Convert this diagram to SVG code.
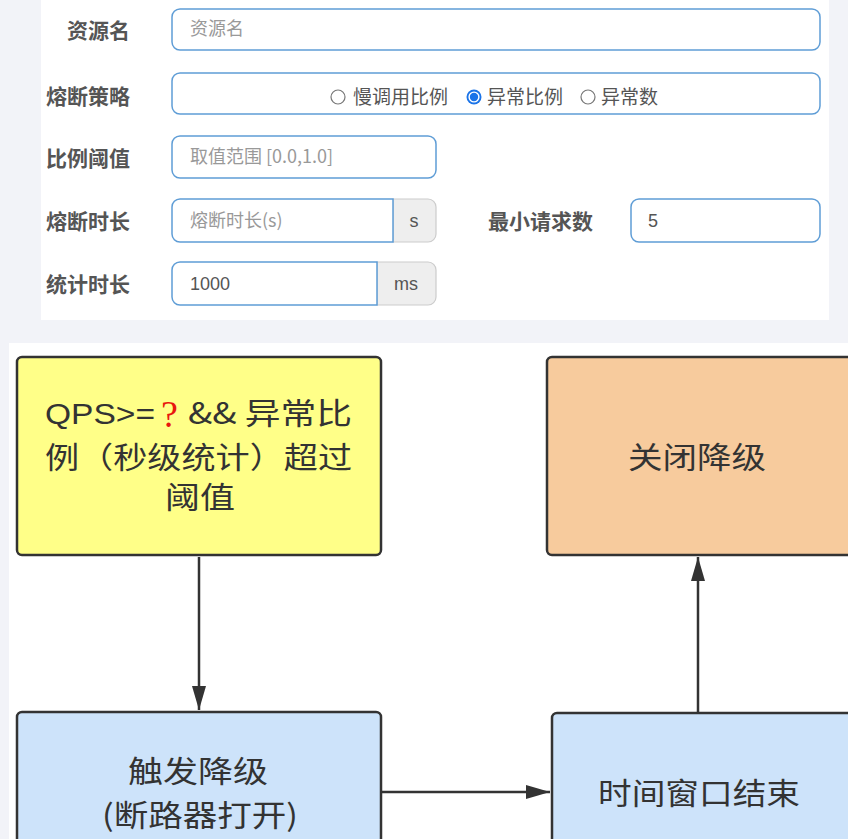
<svg xmlns="http://www.w3.org/2000/svg" width="848" height="839" viewBox="0 0 848 839">
<defs>
<style>
.cjk{font-family:"Noto Sans CJK SC","Liberation Sans",sans-serif;}
.lbl{font-size:21px;font-weight:bold;fill:#555;text-anchor:end;}
.ph{font-size:18px;fill:#999;}
.val{font-size:18px;fill:#555;}
.opt{font-size:19px;fill:#555;}
.inp{fill:#fff;stroke:#5f9dd6;stroke-width:1.5;}
.addon{fill:#eeeeee;stroke:#cccccc;stroke-width:1.2;}
.box{stroke:#333;stroke-width:2.5;}
.big{font-size:30px;fill:#333;}
.conn{stroke:#333;stroke-width:2.5;fill:none;}
</style>
<marker id="arr" viewBox="0 0 24 14" refX="24" refY="7" markerWidth="24" markerHeight="14" markerUnits="userSpaceOnUse" orient="auto">
<path d="M0,0 L24,7 L0,14 z" fill="#333"/>
</marker>
</defs>
<rect x="0" y="0" width="848" height="839" fill="#f2f3f8"/>
<rect x="41" y="0" width="788" height="320" fill="#fff"/>
<rect x="9" y="343" width="839" height="496" fill="#fff"/>

<g id="form" class="cjk">
<g id="f-name">
<text class="lbl" x="130" y="38">资源名</text>
<rect class="inp" x="172" y="9" width="648" height="41" rx="8"/>
<text class="ph" x="190" y="35">资源名</text>
</g>
<g id="f-strategy">
<text class="lbl" x="130" y="104">熔断策略</text>
<rect class="inp" x="172" y="73" width="648" height="41" rx="8"/>
<circle cx="338" cy="97" r="7" fill="#fff" stroke="#777" stroke-width="1.2"/>
<text class="opt" x="353" y="104">慢调用比例</text>
<circle cx="474" cy="97" r="7.5" fill="#1a73e8"/>
<circle cx="474" cy="97" r="5.6" fill="#fff"/>
<circle cx="474" cy="97" r="4.2" fill="#1a73e8"/>
<text class="opt" x="487" y="104">异常比例</text>
<circle cx="588" cy="97" r="7" fill="#fff" stroke="#777" stroke-width="1.2"/>
<text class="opt" x="601" y="104">异常数</text>
</g>
<g id="f-threshold">
<text class="lbl" x="130" y="166">比例阈值</text>
<rect class="inp" x="172" y="136" width="264" height="42" rx="8"/>
<text class="ph" x="190" y="163">取值范围 [0.0,1.0]</text>
</g>
<g id="f-duration">
<text class="lbl" x="130" y="229">熔断时长</text>
<path class="addon" d="M393,199 H428 A8,8 0 0 1 436,207 V234 A8,8 0 0 1 428,242 H393 Z"/>
<path class="inp" d="M393,199 V242 H180 A8,8 0 0 1 172,234 V207 A8,8 0 0 1 180,199 Z"/>
<text class="ph" x="190" y="227">熔断时长(s)</text>
<text class="val" x="414" y="227" text-anchor="middle" font-family="Liberation Sans, sans-serif">s</text>
</g>
<g id="f-minreq">
<text class="lbl" x="593" y="229">最小请求数</text>
<rect class="inp" x="631" y="199" width="189" height="43" rx="8"/>
<text class="val" x="648" y="227" font-family="Liberation Sans, sans-serif">5</text>
</g>
<g id="f-stat">
<text class="lbl" x="130" y="292">统计时长</text>
<path class="addon" d="M377,262 H428 A8,8 0 0 1 436,270 V297 A8,8 0 0 1 428,305 H377 Z"/>
<path class="inp" d="M377,262 V305 H180 A8,8 0 0 1 172,297 V270 A8,8 0 0 1 180,262 Z"/>
<text class="val" x="190" y="290" font-family="Liberation Sans, sans-serif">1000</text>
<text class="val" x="406" y="290" text-anchor="middle" font-family="Liberation Sans, sans-serif">ms</text>
</g>
</g>

<g id="connectors">
<line class="conn" x1="199" y1="557" x2="199" y2="710" marker-end="url(#arr)"/>
<line class="conn" x1="382" y1="792" x2="550" y2="792" marker-end="url(#arr)"/>
<line class="conn" x1="698" y1="712" x2="698" y2="557" marker-end="url(#arr)"/>
</g>

<g id="n-condition" class="cjk">
<rect class="box" x="17" y="357" width="364" height="198" rx="5" fill="#ffff88"/>
<text class="big" x="45" y="424" textLength="110" lengthAdjust="spacingAndGlyphs" font-family="Liberation Sans, sans-serif">QPS&gt;=</text>
<text x="161" y="427" font-size="38" fill="#e8170f" font-family="Liberation Serif, serif">?</text>
<text class="big" x="188" y="424" textLength="164" lengthAdjust="spacingAndGlyphs">&amp;&amp; 异常比</text>
<text class="big" x="45" y="468" textLength="307" lengthAdjust="spacingAndGlyphs">例（秒级统计）超过</text>
<text class="big" x="165" y="508" textLength="70" lengthAdjust="spacingAndGlyphs">阈值</text>
</g>

<g id="n-close" class="cjk">
<rect class="box" x="547" y="357" width="310" height="198" rx="5" fill="#f7cb9d"/>
<text class="big" x="628" y="468" textLength="138" lengthAdjust="spacingAndGlyphs">关闭降级</text>
</g>

<g id="n-trigger" class="cjk">
<rect class="box" x="17" y="712" width="364" height="160" rx="5" fill="#cde3fa"/>
<text class="big" x="128" y="782" textLength="140" lengthAdjust="spacingAndGlyphs">触发降级</text>
<text class="big" x="102" y="826" textLength="196" lengthAdjust="spacingAndGlyphs">(断路器打开)</text>
</g>

<g id="n-window" class="cjk">
<rect class="box" x="552" y="713" width="310" height="160" rx="5" fill="#cde3fa"/>
<text class="big" x="598" y="804" textLength="202" lengthAdjust="spacingAndGlyphs">时间窗口结束</text>
</g>
</svg>
